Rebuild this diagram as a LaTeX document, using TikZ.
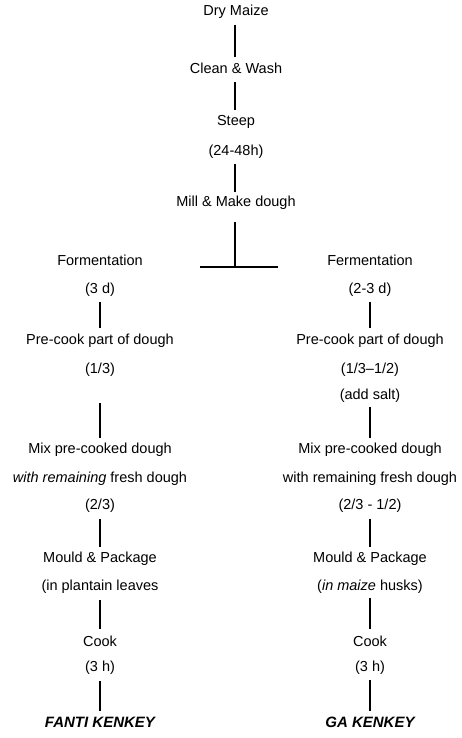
\documentclass[tikz,border=0pt]{standalone}
\usepackage{fontspec}
\setmainfont{Liberation Sans}
\begin{document}
\begin{tikzpicture}[x=1pt,y=-1pt,
  lbl/.style={inner sep=0pt,font=\fontsize{14.5}{17}\selectfont},
  conn/.style={line width=2.6pt}]
\useasboundingbox (0,0) rectangle (462,738);
% main trunk
\node[lbl] (dry) at (236,12) {Dry Maize};
\node[lbl] (clean) at (236,68) {Clean \& Wash};
\node[lbl] (steep) at (236,122) {Steep};
\node[lbl] (steeph) at (236,152) {(24-48h)};
\node[lbl] (mill) at (236,203) {Mill \& Make dough};
\coordinate (m1) at (235,82);
\coordinate (m2) at (235,110);
\coordinate (t1) at (235,25);
\coordinate (t2) at (235,57);
\coordinate (s1) at (235,164);
\coordinate (s2) at (235,192);
\coordinate (k1) at (235,222);
\coordinate (k2) at (235,267);
\coordinate (barL) at (200,267);
\coordinate (barR) at (278,267);
\draw[conn] (t1) -- (t2);
\draw[conn] (m1) -- (m2);
\draw[conn] (s1) -- (s2);
\draw[conn] (k1) -- (k2);
\draw[line width=2.4pt] (barL) -- (barR);
% left branch
\node[lbl] (lf) at (100,260) {Formentation};
\node[lbl] (lfd) at (100,290) {(3 d)};
\node[lbl] (lp) at (100,341) {Pre-cook part of dough};
\node[lbl] (lpf) at (100,370) {(1/3)};
\node[lbl] (lm) at (100,450) {Mix pre-cooked dough};
\node[lbl] (lw) at (100,479) {\textit{with remaining} fresh dough};
\node[lbl] (lwf) at (100,506) {(2/3)};
\node[lbl] (lmo) at (100,559) {Mould \& Package};
\node[lbl] (lin) at (100,587) {(in plantain leaves};
\node[lbl] (lc) at (100,641) {Cook};
\node[lbl] (lch) at (100,668) {(3 h)};
\node[lbl,font=\fontsize{15}{17}\selectfont\bfseries\itshape] (lk) at (100,722) {FANTI KENKEY};
\draw[conn] ([yshift=-5pt]lfd.south) -- ([yshift=6pt]lp.north);
\draw[conn] (100,403) -- ([yshift=5pt]lm.north);
\draw[conn] ([yshift=-6pt]lwf.south) -- ([yshift=5pt]lmo.north);
\draw[conn] ([yshift=-6pt]lin.south) -- ([yshift=6pt]lc.north);
\draw[conn] ([yshift=-6pt]lch.south) -- ([yshift=6pt]lk.north);
% right branch
\node[lbl] (rf) at (370,260) {Fermentation};
\node[lbl] (rfd) at (370,290) {(2-3 d)};
\node[lbl] (rp) at (370,341) {Pre-cook part of dough};
\node[lbl] (rpf) at (370,370) {(1/3--1/2)};
\node[lbl] (rs) at (370,396) {(add salt)};
\node[lbl] (rm) at (370,450) {Mix pre-cooked dough};
\node[lbl] (rw) at (370,479) {with remaining fresh dough};
\node[lbl] (rwf) at (370,506) {(2/3 - 1/2)};
\node[lbl] (rmo) at (370,559) {Mould \& Package};
\node[lbl] (rin) at (370,587) {(\textit{in maize} husks)};
\node[lbl] (rc) at (370,641) {Cook};
\node[lbl] (rch) at (370,668) {(3 h)};
\node[lbl,font=\fontsize{15}{17}\selectfont\bfseries\itshape] (rk) at (370,722) {GA KENKEY};
\draw[conn] ([yshift=-5pt]rfd.south) -- ([yshift=6pt]rp.north);
\draw[conn] ([yshift=-4pt]rs.south) -- ([yshift=5pt]rm.north);
\draw[conn] ([yshift=-6pt]rwf.south) -- ([yshift=5pt]rmo.north);
\draw[conn] ([yshift=-4pt]rin.south) -- ([yshift=6pt]rc.north);
\draw[conn] ([yshift=-5pt]rch.south) -- ([yshift=6pt]rk.north);
\end{tikzpicture}
\end{document}
